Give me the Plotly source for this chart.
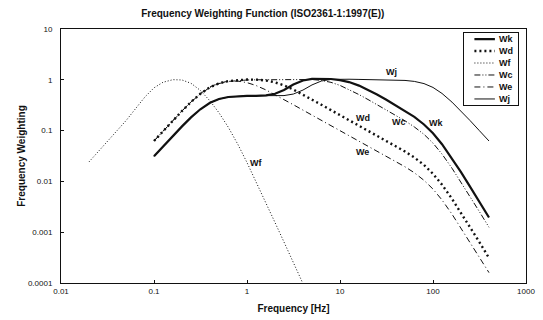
import math
import plotly.graph_objects as go

# 1/3-octave band centre frequencies (Hz)
freq = [0.1, 0.125, 0.16, 0.2, 0.25, 0.315, 0.4, 0.5, 0.63, 0.8, 1, 1.25, 1.6, 2, 2.5,
        3.15, 4, 5, 6.3, 8, 10, 12.5, 16, 20, 25, 31.5, 40, 50, 63, 80, 100, 125, 160,
        200, 250, 315, 400]
freq_wf = [0.02, 0.025, 0.0315, 0.04, 0.05, 0.063, 0.08, 0.1, 0.125, 0.16, 0.2, 0.25,
           0.315, 0.4, 0.5, 0.63, 0.8, 1, 1.25, 1.6, 2, 2.5, 3.15, 4]

wk = [0.0312, 0.0486, 0.0790, 0.121, 0.182, 0.263, 0.352, 0.418, 0.459, 0.477, 0.482,
      0.484, 0.494, 0.531, 0.631, 0.804, 0.967, 1.039, 1.054, 1.036, 0.988, 0.902, 0.768,
      0.636, 0.513, 0.405, 0.314, 0.246, 0.186, 0.132, 0.0887, 0.0540, 0.0285, 0.0152,
      0.00790, 0.00398, 0.00195]
wd = [0.0624, 0.0973, 0.158, 0.243, 0.365, 0.530, 0.713, 0.853, 0.944, 0.992, 1.011,
      1.008, 0.968, 0.890, 0.776, 0.642, 0.512, 0.409, 0.323, 0.253, 0.202, 0.161, 0.125,
      0.100, 0.0800, 0.0632, 0.0494, 0.0388, 0.0295, 0.0211, 0.0141, 0.00863, 0.00455,
      0.00243, 0.00126, 0.00064, 0.00031]
wf = [0.0242, 0.0377, 0.0597, 0.0971, 0.157, 0.267, 0.461, 0.695, 0.895, 1.006, 0.992,
      0.854, 0.619, 0.384, 0.224, 0.116, 0.0530, 0.0235, 0.00998, 0.00377, 0.00155,
      0.00064, 0.00025, 0.000097]
wc = [0.0624, 0.0972, 0.158, 0.243, 0.364, 0.527, 0.708, 0.843, 0.929, 0.972, 0.991,
      1.000, 1.007, 1.012, 1.017, 1.022, 1.024, 1.013, 0.974, 0.891, 0.776, 0.647, 0.512,
      0.409, 0.325, 0.256, 0.199, 0.156, 0.118, 0.0844, 0.0567, 0.0345, 0.0182, 0.00971,
      0.00506, 0.00255, 0.00125]
we = [0.0625, 0.0975, 0.159, 0.245, 0.368, 0.536, 0.723, 0.862, 0.939, 0.941, 0.880,
      0.772, 0.632, 0.512, 0.409, 0.323, 0.253, 0.202, 0.160, 0.125, 0.100, 0.0801,
      0.0625, 0.0500, 0.0399, 0.0316, 0.0247, 0.0194, 0.0148, 0.0105, 0.00707, 0.00431,
      0.00227, 0.00121, 0.00063, 0.00032, 0.00016]
wj = [0.031, 0.0483, 0.0785, 0.1205, 0.181, 0.2615, 0.351, 0.417, 0.458, 0.477, 0.4845,
      0.4865, 0.483, 0.482, 0.489, 0.524, 0.628, 0.793, 0.946, 1.017, 1.030, 1.026, 1.018,
      1.012, 1.007, 1.001, 0.990, 0.972, 0.930, 0.842, 0.707, 0.539, 0.364, 0.2425, 0.158,
      0.100, 0.0624]

names = ["Wk", "Wd", "Wf", "Wc", "We", "Wj"]
xs = [freq, freq, freq_wf, freq, freq, freq]
ys = [wk, wd, wf, wc, we, wj]

x_tickvals = [0.01, 0.1, 1, 10, 100, 1000]
x_ticktext = ["0.01", "0.1", "1", "10", "100", "1000"]
y_tickvals = [0.0001, 0.001, 0.01, 0.1, 1, 10]
y_ticktext = ["0.0001", "0.001", "0.01", "0.1", "1", "10"]

# curve labels (frequency, weighting) positions
label_pos = {"Wj": (35.6, 1.43), "Wd": (17.8, 0.177), "Wc": (43.4, 0.148),
             "Wk": (108, 0.141), "We": (17.4, 0.038), "Wf": (1.24, 0.023)}

styles = {
    "Wk": dict(width=2.2, dash="solid"),
    "Wd": dict(width=2.4, dash="2px,3px"),
    "Wf": dict(width=1, dash="1px,2px"),
    "Wc": dict(width=1, dash="6px,2px,1px,2px,1px,2px"),
    "We": dict(width=1, dash="6px,3px,1px,3px"),
    "Wj": dict(width=1, dash="solid"),
}

FONT = "Liberation Sans, Arial, sans-serif"
INK = "#111111"

fig = go.Figure()
for n, x, y in zip(names, xs, ys):
    fig.add_trace(go.Scatter(x=x, y=y, mode="lines", name=n, showlegend=False,
                             line=dict(color=INK, **styles[n]),
                             xaxis="x", yaxis="y"))

# legend drawn as a small inset
for i, n in enumerate(names):
    fig.add_trace(go.Scatter(x=[0.19, 0.57], y=[i + 0.5, i + 0.5], mode="lines",
                             showlegend=False, hoverinfo="skip",
                             line=dict(color=INK, **styles[n]),
                             xaxis="x2", yaxis="y2"))

annotations = []
for n, (fx, fy) in label_pos.items():
    annotations.append(dict(x=math.log10(fx), y=math.log10(fy), xref="x", yref="y",
                            text="<b>%s</b>" % n, showarrow=False,
                            font=dict(family=FONT, size=9, color=INK)))
for i, n in enumerate(names):
    annotations.append(dict(x=0.61, y=i + 0.5, xref="x2", yref="y2", xanchor="left",
                            text="<b>%s</b>" % n, showarrow=False,
                            font=dict(family=FONT, size=9, color=INK)))

fig.update_layout(
    width=543, height=320,
    margin=dict(l=61, r=17, t=29, b=37),
    paper_bgcolor="white", plot_bgcolor="white",
    font=dict(family=FONT, size=8, color=INK),
    title=dict(text="<b>Frequency Weighting Function (ISO2361-1:1997(E))</b>",
               x=0.484, xref="container", xanchor="center",
               y=1 - 13 / 320, yref="container", yanchor="middle",
               font=dict(family=FONT, size=10, color=INK)),
    xaxis=dict(type="log", range=[-2, 3], tickvals=x_tickvals, ticktext=x_ticktext,
               ticks="inside", ticklen=3, tickcolor=INK, showline=True, mirror=True,
               linecolor=INK, linewidth=1, showgrid=False, zeroline=False,
               tickfont=dict(size=8), automargin=False,
               title=dict(text="<b>Frequency [Hz]</b>", standoff=10,
                          font=dict(family=FONT, size=10, color=INK))),
    yaxis=dict(type="log", range=[-4, 1], tickvals=y_tickvals, ticktext=y_ticktext,
               ticks="inside", ticklen=3, tickcolor=INK, showline=True, mirror=True,
               linecolor=INK, linewidth=1, showgrid=False, zeroline=False,
               tickfont=dict(size=8), ticklabelstandoff=6, automargin=False,
               title=dict(text="<b>Frequency Weighting</b>", standoff=0,
                          font=dict(family=FONT, size=10, color=INK))),
    xaxis2=dict(domain=[0.867, 0.983], anchor="y2", range=[0, 1], showline=True,
                mirror=True, linecolor=INK, linewidth=1, showgrid=False,
                zeroline=False, showticklabels=False, ticks=""),
    yaxis2=dict(domain=[0.701, 0.984], anchor="x2", range=[6, 0], showline=True,
                mirror=True, linecolor=INK, linewidth=1, showgrid=False,
                zeroline=False, showticklabels=False, ticks=""),
    annotations=annotations,
    showlegend=False,
)

fig.write_html("out.html", config={"displayModeBar": False},
               post_script="document.body.style.margin='0';")
